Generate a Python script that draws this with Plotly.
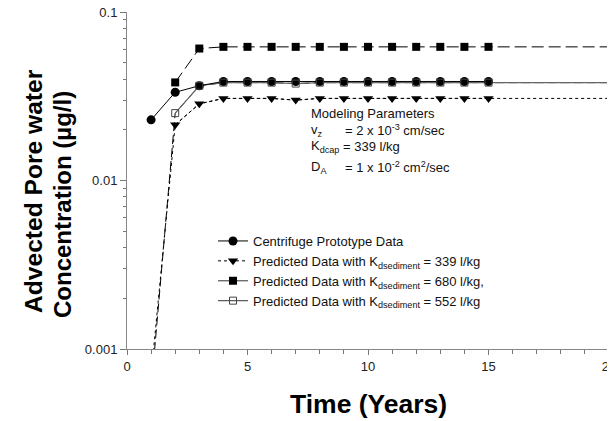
import plotly.graph_objects as go

# ---- data ----
years = list(range(1, 21))
centrifuge_years = list(range(1, 16))
centrifuge = [0.0229, 0.0334, 0.0365, 0.0387, 0.0387, 0.0387, 0.0387, 0.0387,
              0.0387, 0.0387, 0.0387, 0.0387, 0.0387, 0.0387, 0.0387]
pred339 = [0.0007, 0.0214, 0.0285, 0.0307, 0.0307, 0.0307, 0.0300, 0.0307, 0.0307, 0.0307,
           0.0307, 0.0307, 0.0307, 0.0307, 0.0307, 0.0307, 0.0307, 0.0307, 0.0307, 0.0307]
pred680 = [None, 0.0382, 0.0607, 0.0621, 0.0621, 0.0621, 0.0621, 0.0621, 0.0621, 0.0621,
           0.0621, 0.0621, 0.0621, 0.0621, 0.0621, 0.0621, 0.0621, 0.0621, 0.0621, 0.0621]
pred552 = [0.00057, 0.0251, 0.0365, 0.0381, 0.0381, 0.0381, 0.0376, 0.0381, 0.0381, 0.0381,
           0.0381, 0.0381, 0.0381, 0.0381, 0.0381, 0.0381, 0.0381, 0.0381, 0.0381, 0.0381]
marker_last_year = 15

names = ["Centrifuge Prototype Data",
         "Predicted Data with K<sub>dsediment</sub> = 339 l/kg",
         "Predicted Data with K<sub>dsediment</sub> = 680 l/kg,",
         "Predicted Data with K<sub>dsediment</sub> = 552 l/kg"]

x_ticks = [0, 5, 10, 15, 20]
y_ticks = [0.001, 0.01, 0.1]
y_ticktext = ["0.001", "0.01", "0.1"]

FONT = "Liberation Sans, Arial, sans-serif"

def marker_part(xs, ys):
    px, py = [], []
    for x, y in zip(xs, ys):
        if 2 <= x <= marker_last_year and y is not None:
            px.append(x); py.append(y)
    return px, py

fig = go.Figure()

# model lines (extend to 20)
fig.add_trace(go.Scatter(x=years, y=pred339, mode="lines", showlegend=False,
                         line=dict(color="black", width=1, dash="dot")))
fig.add_trace(go.Scatter(x=years, y=pred680, mode="lines", showlegend=False,
                         line=dict(color="black", width=1, dash="12px,5px")))
fig.add_trace(go.Scatter(x=years, y=pred552, mode="lines", showlegend=False,
                         line=dict(color="black", width=1, dash="9px,4px")))
# gray solid line for 552 series
fig.add_trace(go.Scatter(x=years[1:], y=pred552[1:], mode="lines", showlegend=False,
                         line=dict(color="#666666", width=1.2)))

# centrifuge data
fig.add_trace(go.Scatter(x=centrifuge_years, y=centrifuge, mode="lines+markers", name=names[0],
                         line=dict(color="black", width=1),
                         marker=dict(symbol="circle", size=9, color="black")))

# markers of predicted series
mx, my = marker_part(years, pred339)
fig.add_trace(go.Scatter(x=mx, y=my, mode="lines+markers", name=names[1],
                         line=dict(color="black", width=1, dash="dot"),
                         marker=dict(symbol="triangle-down", size=9, color="black")))
mx, my = marker_part(years, pred680)
fig.add_trace(go.Scatter(x=mx, y=my, mode="markers", showlegend=False,
                         marker=dict(symbol="square", size=8, color="black")))
fig.add_trace(go.Scatter(x=[None], y=[None], mode="lines+markers", name=names[2],
                         line=dict(color="#555555", width=1.2),
                         marker=dict(symbol="square", size=8, color="black")))
mx, my = marker_part(years, pred552)
fig.add_trace(go.Scatter(x=mx, y=my, mode="markers", showlegend=False,
                         marker=dict(symbol="square-open", size=7, color="#444444",
                                     line=dict(width=1))))
fig.add_trace(go.Scatter(x=[None], y=[None], mode="lines+markers", name=names[3],
                         line=dict(color="#555555", width=1.2),
                         marker=dict(symbol="square-open", size=7, color="#444444",
                                     line=dict(width=1))))

minor_y = [m * 10 ** e for e in (-3, -2) for m in range(2, 10)]

# The page body has an 8px margin, so the figure is 8px smaller and shifted.
OFF = 8
W, H = 615 - OFF, 421 - OFF
L, R, T, B = 127 - OFF, 6, 12 - OFF, 72
pw, ph = W - L - R, H - T - B

def px_x(X):  # page pixel -> paper
    return (X - OFF - L) / pw

def px_y(Y):
    return 1 - (Y - OFF - T) / ph

fig.update_layout(
    width=W, height=H,
    margin=dict(l=L, r=R, t=T, b=B, autoexpand=False),
    paper_bgcolor="white", plot_bgcolor="white",
    font=dict(family=FONT, size=13, color="#222222"),
    showlegend=True,
    legend=dict(x=px_x(213), y=px_y(226), xanchor="left", yanchor="top",
                bgcolor="rgba(0,0,0,0)", font=dict(size=13, color="#111111"),
                tracegroupgap=0),
    xaxis=dict(range=[0, 20], tickvals=x_ticks, ticks="outside", ticklen=5,
               tickcolor="#777777", showline=True, linecolor="#888888", linewidth=1,
               showgrid=False, zeroline=False, tickfont=dict(size=13, color="#222222"),
               ticklabeloverflow="allow", automargin=False,
               minor=dict(ticks="outside", ticklen=4, dtick=1, tickcolor="#777777", showgrid=False)),
    yaxis=dict(type="log", range=[-3, -1], tickvals=y_ticks, ticktext=y_ticktext,
               ticks="outside", ticklen=6, tickcolor="#777777", showline=True,
               linecolor="#888888", linewidth=1, showgrid=False, zeroline=False,
               tickfont=dict(size=13, color="#222222"), ticklabeloverflow="allow",
               automargin=False,
               minor=dict(ticks="outside", ticklen=3, tickvals=minor_y,
                          tickcolor="#777777", showgrid=False)),
    shapes=[dict(type="line", xref="paper", yref="paper", x0=1, x1=1, y0=0, y1=1,
                 line=dict(color="#aaaaaa", width=2))],
)

ann = []
# axis titles
ann.append(dict(text="<b>Time (Years)</b>", xref="paper", yref="paper", x=px_x(368),
                y=px_y(404), xanchor="center", yanchor="middle", showarrow=False,
                font=dict(size=26.5, color="black", family=FONT)))
ann.append(dict(text="<b>Advected Pore water</b>", xref="paper", yref="paper", x=px_x(33),
                y=px_y(191), xanchor="center", yanchor="middle", showarrow=False, textangle=-90,
                font=dict(size=24.6, color="black", family=FONT)))
ann.append(dict(text="<b>Concentration (µg/l)</b>", xref="paper", yref="paper", x=px_x(62),
                y=px_y(205), xanchor="center", yanchor="middle", showarrow=False, textangle=-90,
                font=dict(size=24, color="black", family=FONT)))
# modeling parameters text
pf = dict(size=13, color="#111111", family=FONT)
ann.append(dict(text="Modeling Parameters", xref="paper", yref="paper", x=px_x(309), y=px_y(113),
                xanchor="left", yanchor="middle", showarrow=False, font=pf))
rows = [("v<sub>z</sub>", "= 2 x 10<sup>-3</sup> cm/sec", 130),
        ("K<sub>dcap</sub>", "= 339 l/kg", 147),
        ("D<sub>A</sub>", "= 1 x 10<sup>-2</sup> cm<sup>2</sup>/sec", 167)]
for lab, val, yy in rows:
    ann.append(dict(text=lab, xref="paper", yref="paper", x=px_x(309), y=px_y(yy),
                    xanchor="left", yanchor="middle", showarrow=False, font=pf))
    vx = 341 if "dcap" in lab else 343
    ann.append(dict(text=val, xref="paper", yref="paper", x=px_x(vx), y=px_y(yy),
                    xanchor="left", yanchor="middle", showarrow=False, font=pf))
fig.update_layout(annotations=ann)

fig.write_html("out.html")
